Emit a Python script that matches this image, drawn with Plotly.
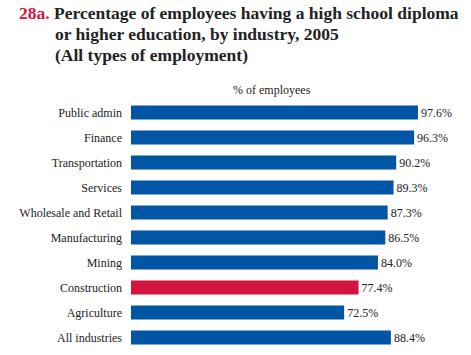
import plotly.graph_objects as go

categories = ["Public admin", "Finance", "Transportation", "Services",
              "Wholesale and Retail", "Manufacturing", "Mining",
              "Construction", "Agriculture", "All industries"]
values = [97.6, 96.3, 90.2, 89.3, 87.3, 86.5, 84.0, 77.4, 72.5, 88.4]
highlight = "Construction"

BLUE = "#0055a5"
RED = "#d2143f"
FONT = "Liberation Serif, Times New Roman, DejaVu Serif, serif"

colors = [RED if c == highlight else BLUE for c in categories]
labels = [f"{v:.1f}%" for v in values]

L, R, T, B = 131, 46, 100, 5
W, H = 471, 355

fig = go.Figure(go.Bar(
    x=values, y=categories, orientation="h",
    marker=dict(color=colors, line=dict(width=0)),
    text=labels, textposition="outside", cliponaxis=False,
    textfont=dict(family=FONT, size=12, color="#222222"),
    hoverinfo="skip",
))

pw = W - L - R
ph = H - T - B


def px2paper(px, py):
    return (px - L) / pw, 1 - (py - T) / ph


title_lines = [
    ("<b><span style='color:%s'>28a.</span> Percentage of employees having a high school diploma</b>" % RED, 17, 13),
    ("<b>or higher education, by industry, 2005</b>", 53, 34),
    ("<b>(All types of employment)</b>", 53, 55),
]
anns = []
for text, px, py in title_lines:
    x, y = px2paper(px, py)
    anns.append(dict(text=text, x=x, y=y, xref="paper", yref="paper",
                     xanchor="left", yanchor="middle", showarrow=False,
                     font=dict(family=FONT, size=17.5, color="#222222")))
x, y = px2paper(272, 90)
anns.append(dict(text="% of employees", x=x, y=y, xref="paper", yref="paper",
                 xanchor="center", yanchor="middle", showarrow=False,
                 font=dict(family=FONT, size=12, color="#222222")))

fig.update_layout(
    width=W, height=H,
    margin=dict(l=L, r=R, t=T, b=B, autoexpand=False),
    paper_bgcolor="white", plot_bgcolor="white",
    bargap=0.44,
    showlegend=False,
    xaxis=dict(range=[0, 100], visible=False, fixedrange=True, automargin=False),
    yaxis=dict(autorange="reversed", showline=False, showgrid=False,
               zeroline=False, ticks="", ticklabelstandoff=8, automargin=False,
               fixedrange=True,
               tickfont=dict(family=FONT, size=12, color="#222222")),
    annotations=anns,
)

fig.write_html("out.html", config={"displayModeBar": False, "staticPlot": True},
               post_script="document.body.style.margin='0px';document.body.style.overflow='hidden';")
